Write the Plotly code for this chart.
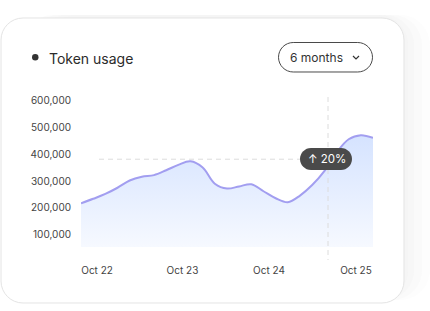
import plotly.graph_objects as go

# ---------------- data ----------------
usage = [217000, 234000, 252000, 275000, 302000, 316000, 322000, 340000, 360000,
         373000, 350000, 290000, 272000, 280000, 288000, 262000, 236000, 221000,
         246000, 285000, 337000, 405000, 455000, 470000, 460000]
idx = list(range(len(usage)))
tick_pos = [1.32, 8.34, 15.45, 22.6]
tick_text = ["Oct 22", "Oct 23", "Oct 24", "Oct 25"]
y_ticks = [100000, 200000, 300000, 400000, 500000, 600000]
ref_value = 381000
badge_text = "↑ 20%"
title_text = "Token usage"
button_text = "6 months"

# ---------------- geometry helpers (pixel -> paper) ----------------
W, H = 430, 311
L, R, T, B = 81, 373, 97, 247
def px(x):
    return (x - L) / (R - L)
def py(y):
    return (B - y) / (B - T)

K = 0.5523
def rrect(x0, y0, x1, y1, r):
    def P(x, y):
        return f"{px(x):.5f},{py(y):.5f}"
    k = r * (1 - K)
    d = f"M {P(x0 + r, y0)} L {P(x1 - r, y0)} "
    d += f"C {P(x1 - k, y0)} {P(x1, y0 + k)} {P(x1, y0 + r)} "
    d += f"L {P(x1, y1 - r)} "
    d += f"C {P(x1, y1 - k)} {P(x1 - k, y1)} {P(x1 - r, y1)} "
    d += f"L {P(x0 + r, y1)} "
    d += f"C {P(x0 + k, y1)} {P(x0, y1 - k)} {P(x0, y1 - r)} "
    d += f"L {P(x0, y0 + r)} "
    d += f"C {P(x0, y0 + k)} {P(x0 + k, y0)} {P(x0 + r, y0)} Z"
    return d

shapes = []
# very soft shadow, mostly on the right
for dx, op in [(26, 0.15), (18, 0.2), (10, 0.25), (4, 0.25)]:
    shapes.append(dict(type="path", xref="paper", yref="paper", layer="below",
                       path=rrect(20 + dx, 15, 404 + dx, 300, 30),
                       fillcolor=f"rgba(240,240,240,{op})", line=dict(width=0)))
# card
shapes.append(dict(type="path", xref="paper", yref="paper", layer="below",
                   path=rrect(1, 18, 404, 303, 22), fillcolor="white",
                   line=dict(color="#e4e4e4", width=1)))
# bullet
shapes.append(dict(type="circle", xref="paper", yref="paper",
                   x0=px(32), x1=px(38.5), y0=py(54), y1=py(60.5),
                   fillcolor="#333333", line=dict(width=0)))
# button pill
shapes.append(dict(type="path", xref="paper", yref="paper",
                   path=rrect(278.5, 42.5, 372.5, 72, 14.75), fillcolor="white",
                   line=dict(color="#4a4a4a", width=1)))
# chevron
shapes.append(dict(type="path", xref="paper", yref="paper",
                   path=f"M {px(353)},{py(56)} L {px(356)},{py(59)} L {px(359)},{py(56)}",
                   line=dict(color="#333333", width=1.2)))
# horizontal reference dashed line
shapes.append(dict(type="line", xref="paper", yref="y", x0=px(99), x1=1,
                   y0=ref_value, y1=ref_value, layer="below",
                   line=dict(color="#dcdcdc", width=1, dash="5px,4px")))
# vertical dashed line
shapes.append(dict(type="line", xref="paper", yref="paper", x0=px(328), x1=px(328),
                   y0=py(97), y1=py(260),
                   line=dict(color="#dcdcdc", width=1, dash="5px,4px")))
# badge
shapes.append(dict(type="path", xref="paper", yref="paper",
                   path=rrect(300, 148, 352, 170, 11), fillcolor="#4a4a4a",
                   line=dict(width=0)))

annotations = [
    dict(text=title_text, xref="paper", yref="paper", x=px(46.5), y=py(58),
         xanchor="left", yanchor="middle", showarrow=False,
         font=dict(family="Inter", size=14, color="#2b2b2b")),
    dict(text=button_text, xref="paper", yref="paper", x=px(316), y=py(57.5),
         xanchor="center", yanchor="middle", showarrow=False,
         font=dict(family="Inter", size=12, color="#333333")),
    dict(text=badge_text, xref="paper", yref="paper", x=px(326.5), y=py(159),
         xanchor="center", yanchor="middle", showarrow=False,
         font=dict(family="Inter", size=11.5, color="white")),
]

fig = go.Figure()
fig.add_trace(go.Scatter(
    x=idx, y=usage, mode="lines",
    line=dict(color="#a29ef0", width=2, shape="spline", smoothing=1.0),
    fill="tozeroy",
    fillgradient=dict(type="vertical", start=55000, stop=470000,
                      colorscale=[[0, "#f6f9ff"], [1, "#d5e3ff"]]),
    hoverinfo="skip", showlegend=False,
))

fig.update_layout(
    width=W, height=H,
    margin=dict(l=L, r=W - R, t=T, b=H - B),
    paper_bgcolor="white", plot_bgcolor="rgba(0,0,0,0)",
    shapes=shapes, annotations=annotations,
    font=dict(family="Inter", size=10, color="#444444"),
    xaxis=dict(range=[0, len(usage) - 1], showgrid=False, zeroline=False,
               showline=False, tickvals=tick_pos, ticktext=tick_text,
               ticks="", ticklabelstandoff=16,
               tickfont=dict(family="Inter", size=10, color="#444444")),
    yaxis=dict(range=[55000, 612000], showgrid=False, zeroline=False,
               showline=False, tickvals=y_ticks, tickformat=",",
               ticks="", ticklabelstandoff=9,
               tickfont=dict(family="Inter", size=10, color="#444444")),
)

fig.write_html("out.html")
